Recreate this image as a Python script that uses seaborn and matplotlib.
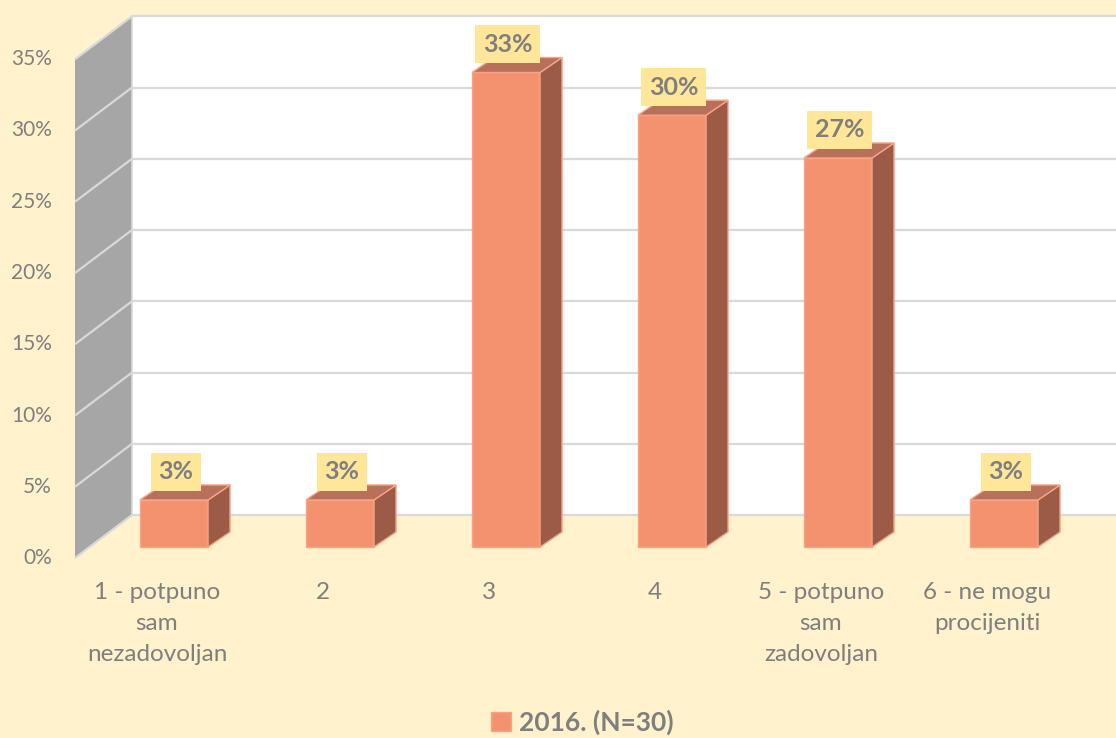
import matplotlib
matplotlib.use("Agg")
import matplotlib.pyplot as plt
from matplotlib.patches import Polygon, Patch
import seaborn as sns

# data
categories = ["1 - potpuno\nsam\nnezadovoljan", "2", "3", "4",
              "5 - potpuno\nsam\nzadovoljan", "6 - ne mogu\nprocijeniti"]
values = [3.3, 3.3, 33.3, 30.3, 27.3, 3.3]
value_labels = ["3%", "3%", "33%", "30%", "27%", "3%"]
y_ticks = [0, 5, 10, 15, 20, 25, 30, 35]
series_name = "2016. (N=30)"

# colours
bg = "#FFF2CC"
front_c = "#F4926F"
side_c = "#9C5B47"
top_c = "#B8705A"
edge_c = "#F7A486"
wall_c = "#A6A6A6"
grid_c = "#D9D9D9"
text_c = "#7F7F7F"
box_c = "#FFE699"

sns.set_style("white")
plt.rcParams["font.family"] = ["Lato", "DejaVu Sans"]

W, H = 1116, 738
fig = plt.figure(figsize=(W / 100, H / 100), dpi=100, facecolor=bg)
ax = fig.add_axes([0, 0, 1, 1])

# pixel layout of the bar plane: category i centred at X0 + STEP*i, value 0 at Y0
X0, STEP, Y0, PPU = 174, 166, 547, 14.25


def px2x(px):
    return (px - X0) / STEP


def px2y(py):
    return (Y0 - py) / PPU


def off(dx, dy):
    # pixel offset (right, up) -> data offset
    return dx / STEP, dy / PPU


sns.barplot(x=list(range(len(values))), y=values, color=front_c, saturation=1,
            width=0.41, edgecolor=edge_c, linewidth=1, ax=ax, zorder=3)

ax.set_xlim(px2x(0), px2x(W))
ax.set_ylim(px2y(H), px2y(0))
ax.axis("off")

# walls
wall_x = px2x(89.6)
fx, fy = off(-14.6, -11)
bx, by = off(42.4, 32)
ymax = y_ticks[-1]
right = px2x(W) + 1

ax.add_patch(Polygon([(wall_x + fx, fy), (wall_x + bx, by),
                      (wall_x + bx, ymax + by), (wall_x + fx, ymax + fy)],
                     closed=True, facecolor=wall_c, edgecolor="none", zorder=1))
ax.add_patch(Polygon([(wall_x + bx, by), (right, by),
                      (right, ymax + by), (wall_x + bx, ymax + by)],
                     closed=True, facecolor="white", edgecolor="none", zorder=1))
for v in y_ticks:
    ax.plot([wall_x + fx, wall_x + bx], [v + fy, v + by], color=grid_c, lw=1.6,
            zorder=2, solid_capstyle="butt")
    ax.plot([wall_x + bx, right], [v + by, v + by], color=grid_c, lw=1.6, zorder=2)
    ax.text(px2x(52), v + fy, f"{v}%", ha="right", va="center",
            fontsize=15, color=text_c)
ax.plot([wall_x + bx, wall_x + bx], [by, ymax + by], color=grid_c, lw=1.2, zorder=2)

# 3d faces of the bars + labels
dx, dy = off(22, 15)
for p, lab in zip(ax.patches, value_labels):
    x0 = p.get_x()
    x1 = x0 + p.get_width()
    h = p.get_height()
    ax.add_patch(Polygon([(x1, 0), (x1 + dx, dy), (x1 + dx, h + dy), (x1, h)],
                         closed=True, facecolor=side_c, edgecolor=edge_c, lw=1, zorder=3))
    ax.add_patch(Polygon([(x0, h), (x0 + dx, h + dy), (x1 + dx, h + dy), (x1, h)],
                         closed=True, facecolor=top_c, edgecolor=edge_c, lw=1, zorder=3))
    ax.text((x0 + x1) / 2 + 0.01, h + 28 / PPU, lab, ha="center", va="center",
            fontsize=18, fontweight="bold", color=text_c, zorder=5,
            bbox=dict(boxstyle="square,pad=0.3", facecolor=box_c, edgecolor="none"))

# category labels
for i, lab in enumerate(categories):
    ax.text(i + px2x(157), px2y(582), lab, ha="center", va="top",
            multialignment="center", fontsize=17.5, color=text_c, linespacing=1.58)

handle = Patch(facecolor=front_c, edgecolor=edge_c, label=series_name)
leg = ax.legend(handles=[handle], loc="center", frameon=False,
                bbox_to_anchor=(582 / W, 1 - 722 / H), bbox_transform=fig.transFigure,
                handlelength=0.75, handleheight=0.75, handletextpad=0.3,
                prop={"size": 19, "weight": "bold"})
for t in leg.get_texts():
    t.set_color(text_c)

fig.savefig("out.png", dpi=100, facecolor=bg)
